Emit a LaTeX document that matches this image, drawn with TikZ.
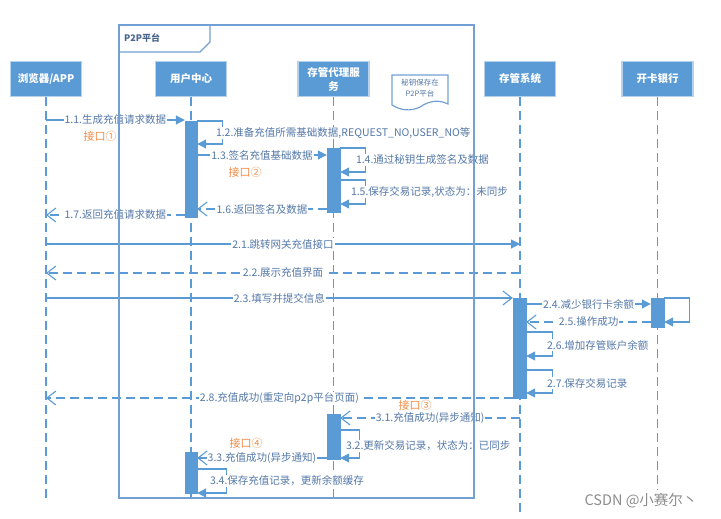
\documentclass[tikz,border=0pt]{standalone}
\usepackage{fontspec}
\setmainfont{Noto Sans CJK SC}
\usetikzlibrary{arrows.meta}
\definecolor{hb}{RGB}{91,155,213}
\definecolor{ln}{RGB}{91,155,213}
\definecolor{tc}{RGB}{84,120,168}
\definecolor{oc}{RGB}{240,140,70}
\definecolor{fc}{RGB}{115,160,212}
\definecolor{ft}{RGB}{70,100,140}
\definecolor{wmc}{RGB}{140,140,140}
\begin{document}
\begin{tikzpicture}[x=1pt,y=-1pt,
 hdr/.style={rectangle, fill=hb, draw=hb!45, line width=1.2pt, text=white, font=\fontsize{10.5}{14}\selectfont\bfseries, minimum width=71pt, minimum height=35pt, inner sep=1pt, align=center},
 life/.style={draw=ln, line width=1.3pt, dash pattern=on 9pt off 5pt},
 act/.style={rectangle, fill=hb, draw=hb, inner sep=0pt, minimum width=12pt},
 msg/.style={draw=ln, line width=1.1pt},
 sync/.style={msg, -{Triangle[length=9pt,width=9pt]}},
 async/.style={msg, -{Straight Barb[length=9pt,width=14pt]}},
 reply/.style={async, dash pattern=on 9pt off 5pt},
 lbl/.style={fill=white, text=tc, inner sep=0.8pt, font=\fontsize{10.5}{12}\selectfont},
 iface/.style={text=oc, inner sep=0pt, font=\fontsize{11}{12}\selectfont},
 frame/.style={draw=fc, line width=1.2pt},
]
\useasboundingbox (0,0) rectangle (721,519);
% headers
\node[hdr] (browser) at (46,79) {浏览器/APP};
\node[hdr] (user) at (191,79) {用户中心};
\node[hdr] (proxy) at (333.5,79) {存管代理服\\务};
\node[hdr] (system) at (520,79) {存管系统};
\node[hdr] (bank) at (657.5,79) {开卡银行};
% lifelines
\coordinate (browserE) at (46,498);
\coordinate (userE) at (191,503);
\coordinate (proxyE) at (333.5,503);
\coordinate (systemE) at (520,513);
\coordinate (bankE) at (657.5,490);
\draw[life] (browser.south) -- (browserE);
\draw[life] (user.south) -- (userE);
\draw[life] (proxy.south) -- (proxyE);
\draw[life] (system.south) -- (systemE);
\draw[life] (bank.south) -- (bankE);
% activations
\node[act, minimum height=96pt] (a1) at (191,169) {};
\node[act, minimum width=13pt, minimum height=64pt] (a2) at (333.5,180) {};
\node[act, minimum width=13pt, minimum height=100pt] (a3) at (519.5,348) {};
\node[act, minimum width=13pt, minimum height=29pt] (a4) at (657.5,312.5) {};
\node[act, minimum width=13pt, minimum height=45pt] (a5) at (333.5,436.5) {};
\node[act, minimum height=41pt] (a6) at (191,472.5) {};
% y levels
\foreach \v in {120,121,144,148,155,160,172,180,204,209,215,244,273,298,304,322,332,356,370,393,398,418,430,458,469,493}
  {\coordinate (y\v) at (0,\v);}
% 1.1
\draw[sync] (browser |- y120) -- node[lbl]{1.1.生成充值请求数据} (a1.west |- y120);
\node[iface] (if1) at (100,136) {接口①};
% 1.2
\draw[sync] (a1.east |- y121) -- ++(25,0) |- (a1.east |- y144);
\node[lbl, anchor=west] (l12) at (215,133) {1.2.准备充值所需基础数据,REQUEST\_NO,USER\_NO等};
% 1.3
\draw[sync] (a1.east |- y155) -- node[lbl]{1.3.签名充值基础数据} (a2.west |- y155);
\node[iface] (if2) at (245,172) {接口②};
% 1.4
\draw[sync] (a2.east |- y148) -- ++(25,0) |- (a2.east |- y172);
\node[lbl, anchor=west] (l14) at (355,160) {1.4.通过秘钥生成签名及数据};
% 1.5
\draw[sync] (a2.east |- y180) -- ++(25,0) |- (a2.east |- y204);
\node[lbl, anchor=west] (l15) at (350,192) {1.5.保存交易记录,状态为：未同步};
% 1.6
\draw[reply] (a2.west |- y209) -- node[lbl]{1.6.返回签名及数据} (a1.east |- y209);
% 1.7
\draw[reply] (a1.west |- y215) -- node[lbl]{1.7.返回充值请求数据} (browser |- y215);
% 2.1
\draw[sync] (browser |- y244) -- node[lbl]{2.1.跳转网关充值接口} (system |- y244);
% 2.2
\draw[reply] (system |- y273) -- node[lbl]{2.2.展示充值界面} (browser |- y273);
% 2.3
\draw[async] (browser |- y298) -- node[lbl]{2.3.填写并提交信息} (a3.west |- y298);
% 2.4
\draw[sync] (a3.east |- y304) -- node[lbl]{2.4.减少银行卡余额} (a4.west |- y304);
% bank self
\draw[sync] (a4.east |- y298) -- ++(25,0) |- (a4.east |- y322);
% 2.5
\draw[reply] (a4.west |- y322) -- node[lbl]{2.5.操作成功} (a3.east |- y322);
% 2.6
\draw[sync] (a3.east |- y332) -- ++(26,0) |- (a3.east |- y356);
\node[lbl, anchor=west] (l26) at (546,345) {2.6.增加存管账户余额};
% 2.7
\draw[sync] (a3.east |- y370) -- ++(26,0) |- (a3.east |- y393);
\node[lbl, anchor=west] (l27) at (546,383) {2.7.保存交易记录};
% 2.8
\draw[reply] (a3.west |- y398) -- node[lbl]{2.8.充值成功(重定向p2p平台页面)} (browser |- y398);
\node[iface] (if3) at (415,405) {接口③};
% 3.1
\draw[reply] (system |- y418) -- node[lbl]{3.1.充值成功(异步通知)} (a5.east |- y418);
% 3.2
\draw[sync] (a5.east |- y430) -- ++(19,0) |- (a5.east |- y458);
\node[lbl, anchor=west] (l32) at (345,446) {3.2.更新交易记录，状态为：已同步};
% 3.3
\draw[async] (a5.west |- y458) -- node[lbl]{3.3.充值成功(异步通知)} (a6.east |- y458);
\node[iface] (if4) at (246,443) {接口④};
% 3.4
\draw[sync] (a6.east |- y469) -- ++(29,0) |- (a6.east |- y493);
\node[lbl, anchor=west] (l34) at (209,481) {3.4.保存充值记录，更新余额缓存};
% frame
\draw[frame] (119,25) rectangle (474,498);
\draw[frame] (119,52) -- (200,52) -- (210,42) -- (210,25);
\node[anchor=west, text=ft, font=\fontsize{9}{10}\selectfont\bfseries, inner sep=0pt] (ftitle) at (124,38) {P2P平台};
% note
\draw[frame, fill=white] (392,75) -- (448,75) -- (448,104) .. controls (436,98) and (426,103) .. (420,107) .. controls (410,112) and (400,110) .. (392,105) -- cycle;
\node[align=center, text=tc, font=\fontsize{7.5}{11}\selectfont, inner sep=0pt] (note) at (420,88) {秘钥保存在\\P2P平台};
% watermark
\node[text=wmc, font=\fontsize{14.5}{15}\selectfont, inner sep=0pt] (wm) at (641,501) {CSDN @小赛尔丶};
\end{tikzpicture}
\end{document}
